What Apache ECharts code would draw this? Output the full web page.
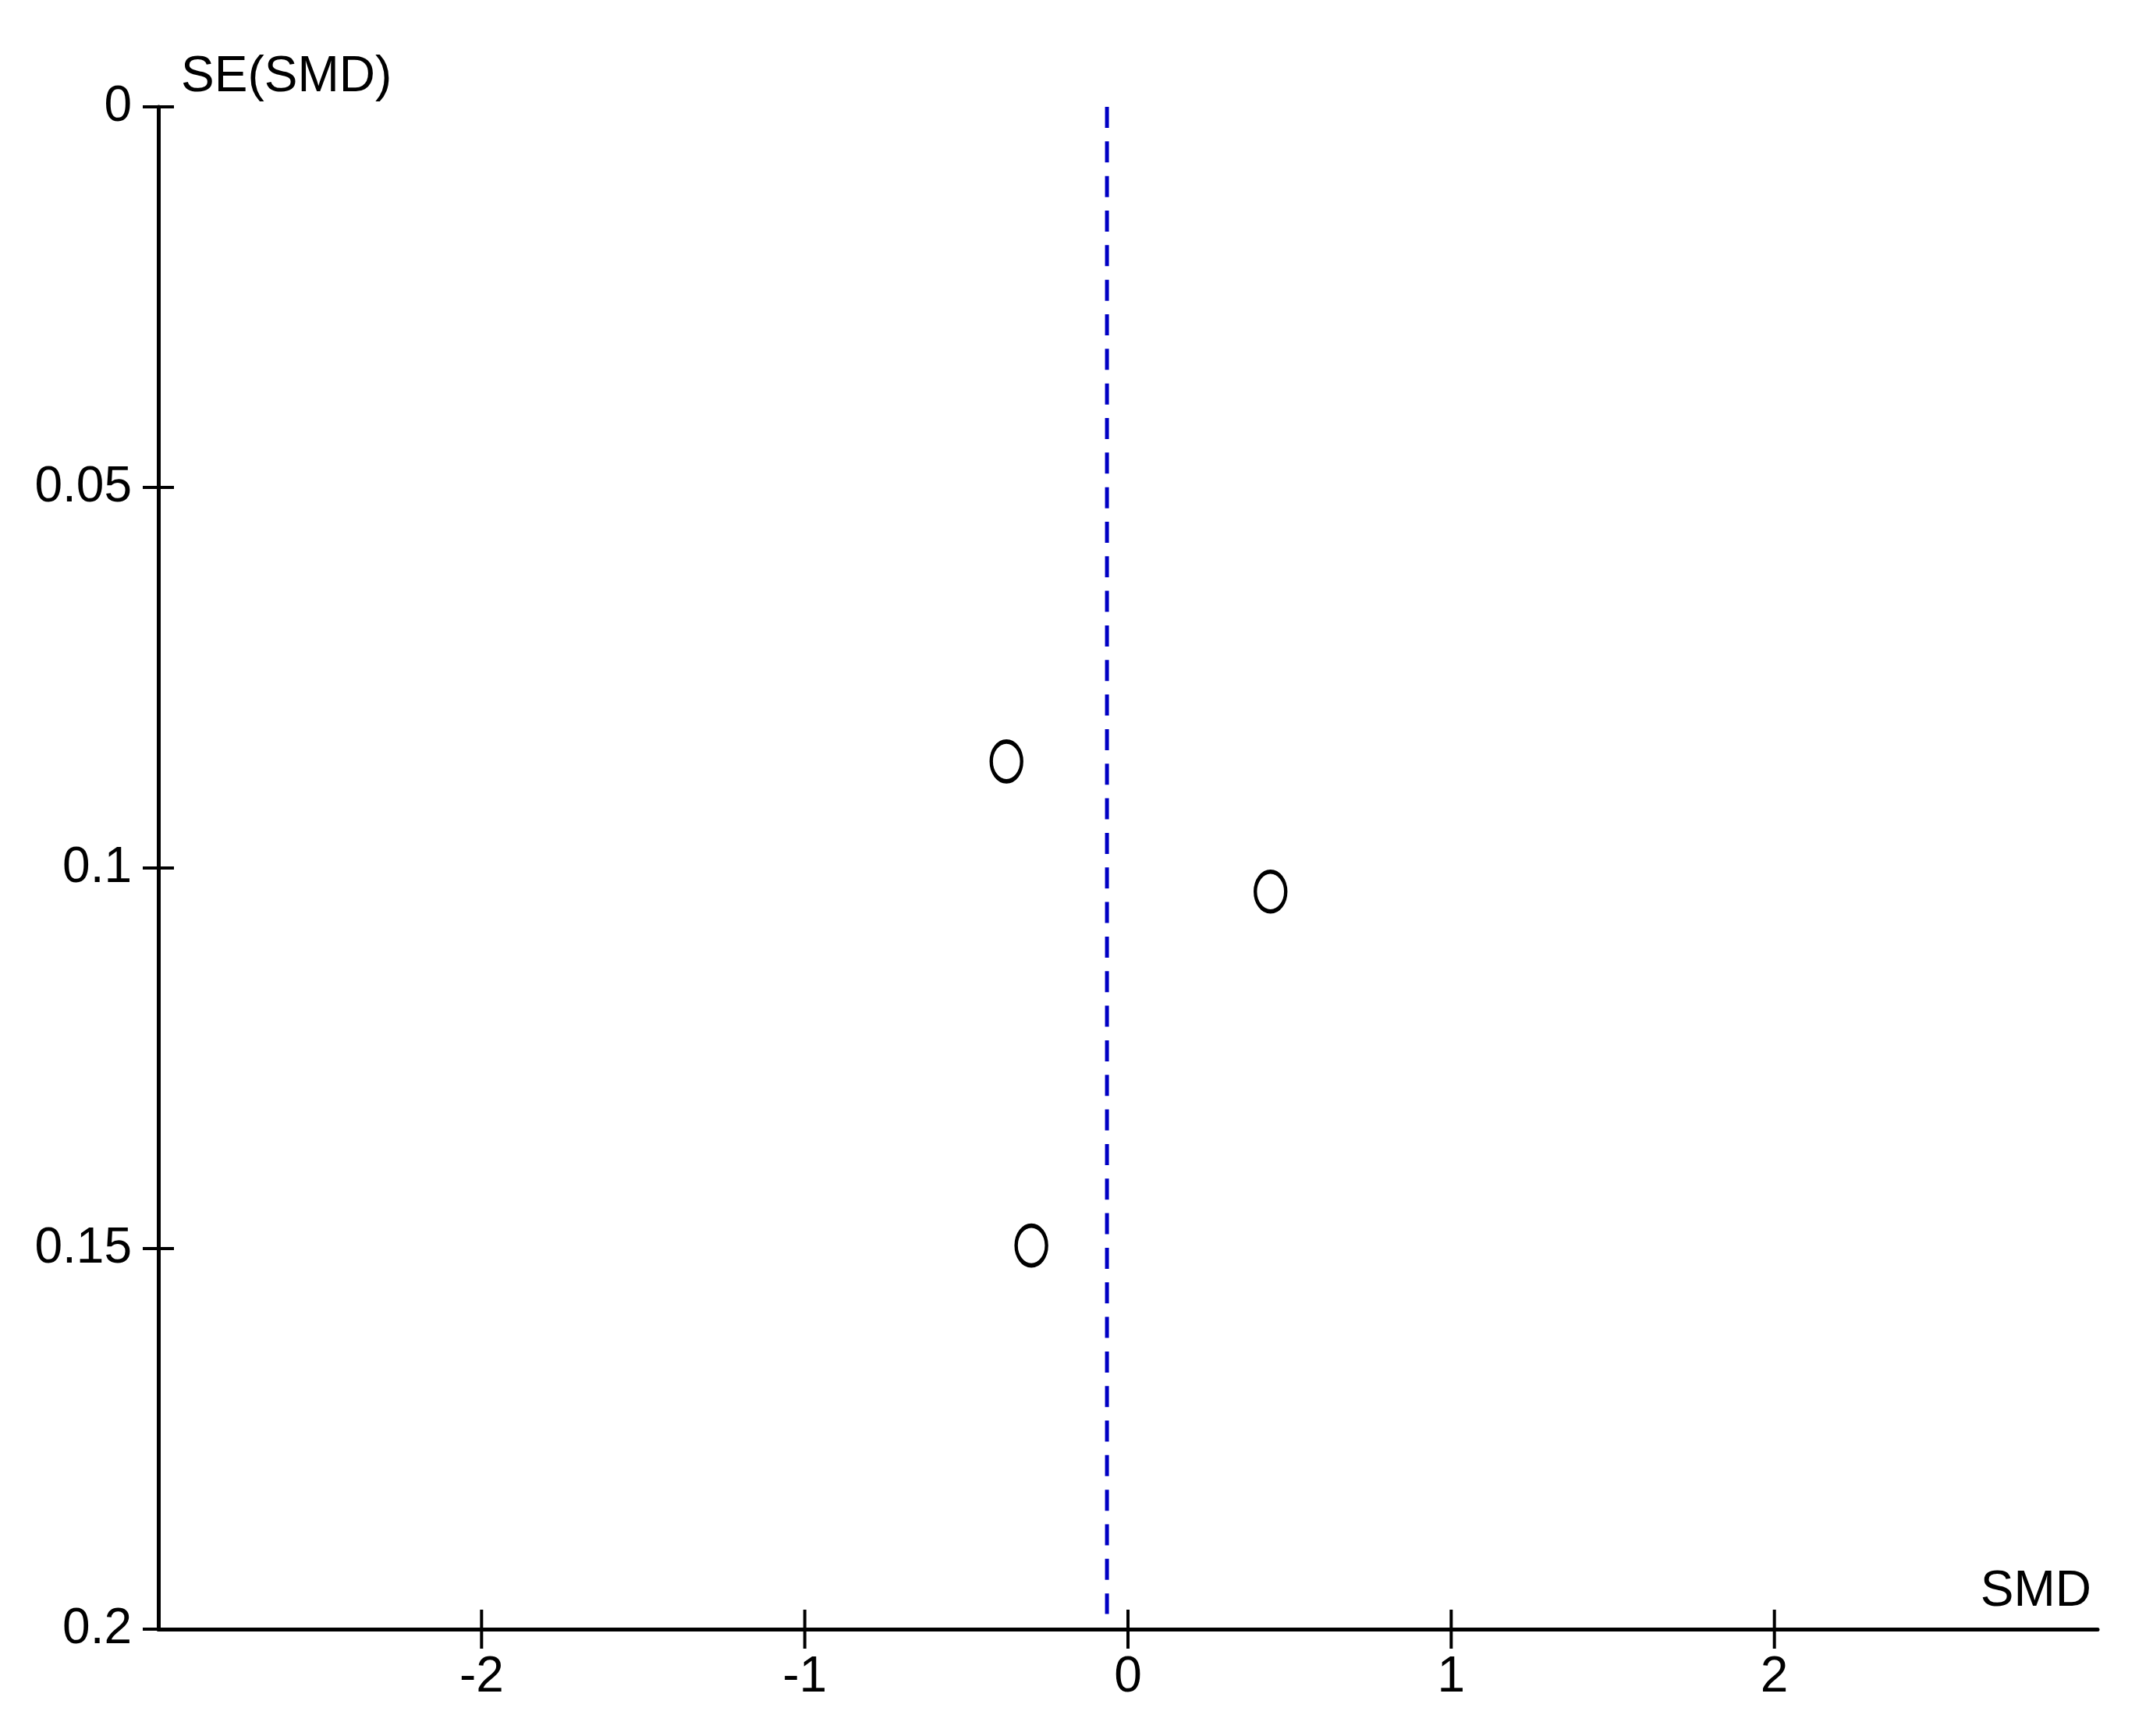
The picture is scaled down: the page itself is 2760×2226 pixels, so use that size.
<!DOCTYPE html>
<html>
<head>
<meta charset="utf-8">
<script src="https://cdn.jsdelivr.net/npm/echarts@6/dist/echarts.min.js"></script>
<style>
	html, body { margin: 0; padding: 0; background: #fff; }
	#myChart { width: 2760px; height: 2226px; }
</style>
</head>
<body>
<div id="myChart"></div>
<script>
// studies: SMD (x) and SE(SMD) (y)
var studySMD = [-0.376, 0.441, -0.299];
var studySE = [0.086, 0.1031, 0.1496];
// pooled effect (dashed line) and its vertical span
var pooledSMD = -0.065;
var pooledSpan = [0, 0.198];
// axis ticks
var xTicks = [-2, -1, 0, 1, 2];
var yTicks = [0, 0.05, 0.1, 0.15, 0.2];

var FONT = '"Liberation Sans", Arial, sans-serif';
var FS = 64;

var GRID_W = 2486, GRID_H = 1952;

var points = studySMD.map(function (v, i) { return [v, studySE[i]]; });
var pooledLine = pooledSpan.map(function (s) { return [pooledSMD, s]; });
// x ticks sit on the bottom of the y range (SE = 0.2)
var xTickMarks = xTicks.map(function (v) { return [v, yTicks[yTicks.length - 1]]; });

var myChart = echarts.init(document.getElementById('myChart'));

var tickLine = { color: '#000', width: 4 };

var option = {
	backgroundColor: '#fff',
	animation: false,
	grid: { left: 203, top: 137, width: GRID_W, height: GRID_H, containLabel: false },
	xAxis: {
		type: 'value',
		position: 'bottom',
		min: -3, max: 3, interval: 1,
		name: 'SMD',
		nameLocation: 'end',
		nameGap: 0,
		nameTextStyle: {
			fontFamily: FONT, fontSize: FS, color: '#000',
			align: 'right', verticalAlign: 'bottom', padding: [0, 8, 16, 0]
		},
		axisLine: { onZero: false, lineStyle: { color: '#000', width: 5 } },
		axisTick: { show: false },
		axisLabel: { fontFamily: FONT, fontSize: FS, color: '#000', margin: 30, customValues: xTicks },
		splitLine: { show: false }
	},
	yAxis: [{
		type: 'value',
		position: 'left',
		inverse: true,
		min: 0, max: 0.2, interval: 0.05,
		name: 'SE(SMD)',
		nameLocation: 'start',
		nameGap: 6,
		nameTextStyle: {
			fontFamily: FONT, fontSize: FS, color: '#000',
			align: 'left', verticalAlign: 'bottom', padding: [0, 0, 0, 29]
		},
		axisLine: { onZero: false, lineStyle: { color: '#000', width: 5 } },
		axisTick: { show: false },
		axisLabel: { fontFamily: FONT, fontSize: FS, color: '#000', margin: 34, customValues: yTicks },
		splitLine: { show: false }
	}, {
		// helper axis pulled over to the left edge: its ticks cross the y axis line
		type: 'value',
		position: 'right',
		offset: -(GRID_W + 20),
		inverse: true,
		min: 0, max: 0.2, interval: 0.05,
		axisLine: { show: false, onZero: false },
		axisTick: { show: true, length: 40, inside: false, customValues: yTicks, lineStyle: tickLine },
		axisLabel: { show: false },
		splitLine: { show: false }
	}],
	series: [{
		name: 'xticks',
		type: 'custom',
		data: xTickMarks,
		clip: false,
		silent: true,
		renderItem: function (params, api) {
			var p = api.coord([api.value(0), api.value(1)]);
			return {
				type: 'line',
				shape: { x1: p[0], y1: p[1] - 25, x2: p[0], y2: p[1] + 25 },
				style: { stroke: '#000', lineWidth: 4 }
			};
		},
		z: 3
	}, {
		name: 'pooled',
		type: 'line',
		data: pooledLine,
		symbol: 'none',
		lineStyle: { color: '#0000C4', width: 5, type: [27, 17.33] },
		silent: true,
		z: 1
	}, {
		name: 'studies',
		type: 'scatter',
		data: points,
		symbol: 'circle',
		symbolSize: [39, 51],
		itemStyle: { color: 'rgba(255,255,255,0)', borderColor: '#000', borderWidth: 5, opacity: 1 },
		z: 2
	}]
};

window.onresize = myChart.resize;
myChart.setOption(option);
</script>
</body>
</html>
